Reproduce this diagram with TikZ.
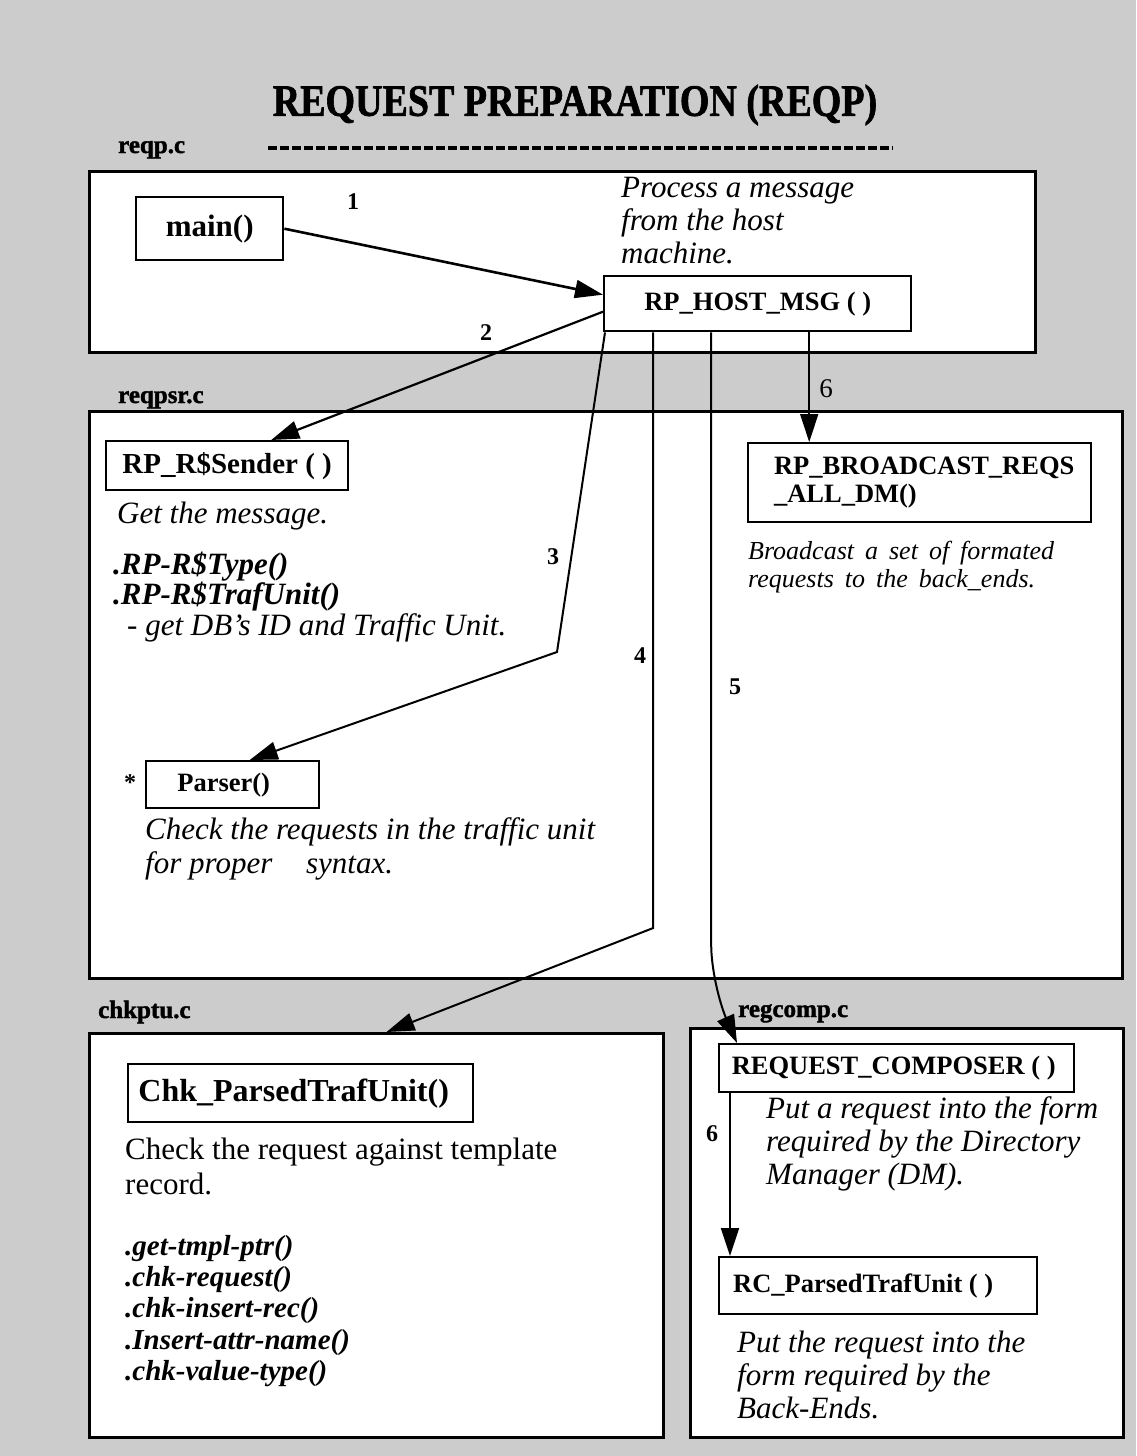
\documentclass[tikz,border=0pt]{standalone}
\usepackage{fontspec}
\setmainfont{Liberation Serif}
\usetikzlibrary{arrows.meta,calc}
\definecolor{paper}{gray}{0.80}
\newcommand\widespaces{\spaceskip=11pt plus 2pt minus 1pt\relax}
\newcommand\heavy{\addfontfeature{FakeBold=1.6}}
\begin{document}
\begin{tikzpicture}[x=1pt,y=-1pt,
  frame/.style={draw, line width=3pt, fill=white, inner sep=0pt, anchor=north west},
  fnbox/.style={draw, line width=2.4pt, fill=white, inner sep=0pt, anchor=north west,
    align=center, font=\bfseries\fontsize{26.5}{28}\selectfont},
  filelabel/.style={anchor=base west, inner sep=0pt, font=\bfseries\fontsize{25}{25}\selectfont\heavy},
  note/.style={anchor=west, inner sep=0pt, align=left, font=\itshape\fontsize{31}{33}\selectfont},
  plain/.style={anchor=west, inner sep=0pt, align=left, font=\fontsize{31}{35}\selectfont},
  num/.style={inner sep=0pt, font=\bfseries\fontsize{24}{24}\selectfont},
  link/.style={line width=2.2pt, -{Triangle[length=28pt,width=18pt]}},
]
% page and background
\useasboundingbox (0,0) rectangle (1136,1456);
\fill[paper] (0,0) rectangle (1136,1456);

% title with dashed rule
\node[inner sep=0pt, font=\bfseries\fontsize{40}{40}\selectfont\heavy] (title) at (575,105)
  {\scalebox{0.95}[1.12]{REQUEST PREPARATION (REQP)}};
\coordinate (ruleL) at (268,148);
\coordinate (ruleR) at (893,148);
\draw[line width=4.5pt, dash pattern=on 9pt off 3pt] (ruleL) -- (ruleR);

% ---------------- reqp.c ----------------
\node[filelabel] (lblreqp) at (118,153) {reqp.c};
\node[frame, minimum width=946pt, minimum height=181pt] (fReqp) at (88,170) {};
\node[fnbox, minimum width=147pt, minimum height=63pt, font=\bfseries\fontsize{31}{31}\selectfont]
  (main) at (135,196) {main()};
\node[fnbox, minimum width=307pt, minimum height=55pt] (host) at (603,275) {RP\_HOST\_MSG ( )};
\node[note] (nHost) at (621,221) {Process a message\\from the host\\machine.};

% ---------------- reqpsr.c ----------------
\node[filelabel] (lblreqpsr) at (118,403) {reqpsr.c};
\node[frame, minimum width=1033pt, minimum height=567pt] (fReqpsr) at (88,410) {};
\node[fnbox, minimum width=242pt, minimum height=49pt, font=\bfseries\fontsize{29}{29}\selectfont]
  (sender) at (105,440) {RP\_R\$Sender ( )};
\node[note] (nSender) at (117,516) {Get the message.};
\node[note, font=\bfseries\itshape\fontsize{31}{30}\selectfont] (nSenderFn) at (113,582)
  {.RP-R\$Type()\\.RP-R\$TrafUnit()};
\node[note] (nSenderDesc) at (127,628) {- get DB’s ID and Traffic Unit.};

\node[fnbox, minimum width=343pt, minimum height=79pt, align=left] (bcast) at (747,442)
  {\hspace*{9pt}RP\_BROADCAST\_REQS\\\hspace*{9pt}\_ALL\_DM()};
\node[note, font=\itshape\fontsize{26}{28}\selectfont\widespaces] (nBcast) at (748,567)
  {Broadcast a set of formated\\requests to the back\_ends.};

\node[fnbox, minimum width=173pt, minimum height=47pt] (parser) at (145,760) {Parser()\hspace*{18pt}};
\node[num] (star) at (130,783) {*};
\node[note, font=\itshape\fontsize{31}{34}\selectfont] (nParser) at (145,849)
  {Check the requests in the traffic unit\\for proper\hspace{26pt} syntax.};

% ---------------- chkptu.c ----------------
\node[filelabel] (lblchk) at (98,1018) {chkptu.c};
\node[frame, minimum width=574pt, minimum height=404pt] (fChk) at (88,1032) {};
\node[fnbox, minimum width=345pt, minimum height=58pt, font=\bfseries\fontsize{32}{32}\selectfont]
  (chk) at (127,1063) {Chk\_ParsedTrafUnit()\hspace*{14pt}};
\node[plain] (nChk) at (125,1166) {Check the request against template\\record.};
\node[note, font=\bfseries\itshape\fontsize{29}{31.3}\selectfont] (nChkFn) at (125,1311)
  {.get-tmpl-ptr()\\.chk-request()\\.chk-insert-rec()\\.Insert-attr-name()\\.chk-value-type()};

% ---------------- regcomp.c ----------------
\node[filelabel] (lblcomp) at (738,1017) {regcomp.c};
\node[frame, minimum width=433pt, minimum height=409pt] (fComp) at (689,1027) {};
\node[fnbox, minimum width=355pt, minimum height=48pt] (composer) at (718,1043) {REQUEST\_COMPOSER ( )\hspace*{6pt}};
\node[note] (nComposer) at (766,1144)
  {Put a request into the form\\required by the Directory\\Manager (DM).};
\node[fnbox, minimum width=318pt, minimum height=57pt] (rcparsed) at (718,1256) {RC\_ParsedTrafUnit ( )\hspace*{30pt}};
\node[note] (nRc) at (737,1375)
  {Put the request into the\\form required by the\\Back-Ends.};

% ---------------- call links ----------------
\draw[link, line width=2.6pt] (main.east) -- ([yshift=9pt]host.west);
\node[num] (n1) at (353,202) {1};

\draw[link] ([yshift=-8pt]host.west) -- ([xshift=44pt]sender.north);
\node[num] (n2) at (486,333) {2};

\coordinate (bend3) at (557,652);
\draw[link, line width=2pt] ([xshift=2pt]host.south west) -- (bend3) -- ([xshift=17pt]parser.north);
\node[num] (n3) at (553,557) {3};

\coordinate (bend4) at (652,928);
\draw[link, line width=2pt] ([xshift=-104.5pt]host.south) coordinate (s4) -- (s4 |- bend4) -- ([xshift=10pt]fChk.north);
\node[num] (n4) at (640,656) {4};

\coordinate (bend5) at (710,985);
\draw[link, line width=2pt, rounded corners=40pt] ([xshift=-46.5pt]host.south) coordinate (s5) -- (s5 |- bend5) -- ([xshift=19pt]composer.north west);
\node[num] (n5) at (735,687) {5};

\draw[link, line width=2pt] ([xshift=51.5pt]host.south) coordinate (s6) -- (s6 |- bcast.north);
\node[inner sep=0pt, font=\fontsize{27}{27}\selectfont] (n6a) at (826,389) {6};

\draw[link, line width=2pt] ([xshift=12pt]composer.south west) coordinate (s7) -- (s7 |- rcparsed.north);
\node[num] (n6b) at (712,1134) {6};
\end{tikzpicture}
\end{document}
